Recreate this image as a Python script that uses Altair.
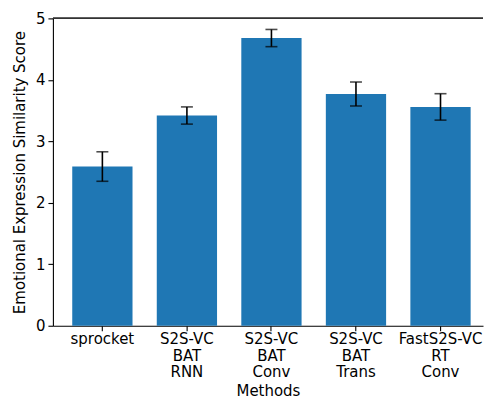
import altair as alt
import pandas as pd

methods = ["sprocket", "S2S-VC\nBAT\nRNN", "S2S-VC\nBAT\nConv", "S2S-VC\nBAT\nTrans", "FastS2S-VC\nRT\nConv"]
means = [2.59, 3.42, 4.68, 3.77, 3.56]
errs = [0.24, 0.14, 0.14, 0.195, 0.215]

df = pd.DataFrame({
    "method": methods,
    "mean": means,
    "lo": [m - e for m, e in zip(means, errs)],
    "hi": [m + e for m, e in zip(means, errs)],
})

FONT = "DejaVu Sans"
W, H = 431, 308

xenc = alt.X("method:N", sort=None, title="Methods",
             scale=alt.Scale(paddingInner=0.287, paddingOuter=0.1875, align=0.61),
             axis=alt.Axis(labelAngle=0, labelExpr="split(datum.label, '\\n')",
                           labelLineHeight=16.5, labelPadding=1, tickSize=5,
                           titlePadding=4))
yenc = alt.Y("mean:Q", title="Emotional Expression Similarity Score",
             scale=alt.Scale(domain=[0, 5], nice=False),
             axis=alt.Axis(values=[0, 1, 2, 3, 4, 5], format="d", grid=False, tickSize=5,
                           labelPadding=3, titlePadding=8))

bars = alt.Chart(df).mark_bar(color="#1f77b4").encode(x=xenc, y=yenc)
rules = alt.Chart(df).mark_rule(color="black", strokeWidth=1.6).encode(
    x=alt.X("method:N", sort=None), y="lo:Q", y2="hi:Q")
cap_lo = alt.Chart(df).mark_tick(color="black", size=12, thickness=1.6).encode(
    x=alt.X("method:N", sort=None), y="lo:Q")
cap_hi = alt.Chart(df).mark_tick(color="black", size=12, thickness=1.6).encode(
    x=alt.X("method:N", sort=None), y="hi:Q")
top = alt.Chart(df).mark_rule(color="#333333", strokeWidth=1.2).encode(
    y=alt.value(0))

chart = alt.layer(bars, rules, cap_lo, cap_hi, top).properties(
    width=W, height=H,
    padding={"left": 4, "top": 3, "right": 0, "bottom": 0}
).configure_view(stroke=None).configure_axis(
    labelFont=FONT, titleFont=FONT, labelFontSize=15, titleFontSize=15,
    titleFontWeight="normal", labelColor="black", titleColor="black",
    domainColor="black", tickColor="black", domainWidth=1.1, tickWidth=1.1
)

chart.save("out.html", embed_options={"renderer": "svg", "actions": False})
